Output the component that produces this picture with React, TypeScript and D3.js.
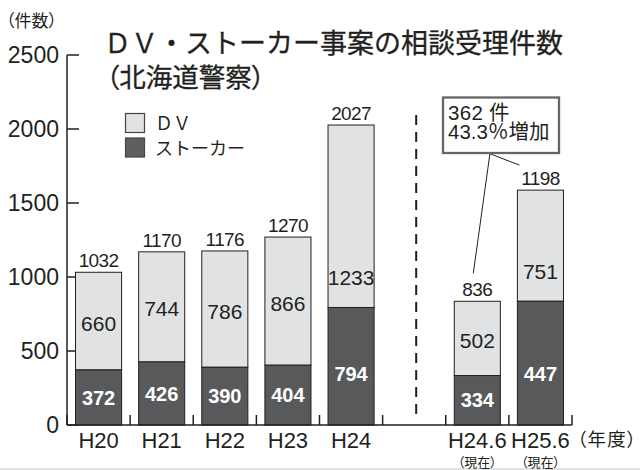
import React from "react";
import * as d3 from "d3";

// ---- data ----
const categories = ["H20", "H21", "H22", "H23", "H24", "H24.6", "H25.6"];
const subLabels = ["", "", "", "", "", "（現在）", "（現在）"];
const stalker = [372, 426, 390, 404, 794, 334, 447];
const dv = [660, 744, 786, 866, 1233, 502, 751];
const totals = [1032, 1170, 1176, 1270, 2027, 836, 1198];
// heights of the dark segments as drawn in the reference (H25.6 is drawn at 836)
const stalkerDrawn = [372, 426, 390, 404, 794, 334, 836];
const yTicks = [0, 500, 1000, 1500, 2000, 2500];
const bandDomain = ["H20", "H21", "H22", "H23", "H24", "gap", "H24.6", "H25.6"];
const legendItems = ["ＤＶ", "ストーカー"];
const titleLines = ["ＤＶ・ストーカー事案の相談受理件数", "（北海道警察）"];
const noteLines = ["362 件", "43.3％増加"];

const W = 640;
const H = 470;
const LIGHT = "#e1e2e4";
const DARK = "#58595b";
const INK = "#231f20";
const NUM = "'Liberation Sans', Arial, sans-serif";
const JP = "'Noto Sans CJK JP', 'Noto Sans', sans-serif";
const MIX = "'Liberation Sans', 'Noto Sans CJK JP', sans-serif";

export default function App() {
  const y = d3.scaleLinear().domain([0, 2500]).range([425, 55]);
  const x = d3
    .scaleBand<string>()
    .domain(bandDomain)
    .range([67, 572])
    .paddingInner(0.27)
    .paddingOuter(0.135);
  const bw = x.bandwidth();
  const step = x.step();
  const gapX = (x("gap") as number) + bw / 2;
  const boundaries = bandDomain.map((d) => (x(d) as number) - (step - bw) / 2);
  boundaries.push(boundaries[boundaries.length - 1] + step);

  const bars = categories.map((c, i) => {
    const x0 = x(c) as number;
    const yBase = y(0);
    const yDark = y(stalkerDrawn[i]);
    const yTop = y(stalkerDrawn[i] + dv[i]);
    const darkH = yBase - yDark;
    const darkCenter = yBase - Math.min(darkH / 2, 51);
    const lightMid = (yTop + yDark) / 2;
    const lightCenter = darkH > 100 ? Math.max(lightMid, yDark - 30) : lightMid + 2;
    return { c, i, x0, yBase, yDark, yTop, darkCenter, lightCenter };
  });

  const b246 = bars[5];
  const b256 = bars[6];

  return (
    <svg
      width={W}
      height={H}
      viewBox={`0 0 ${W} ${H}`}
      style={{ position: "absolute", left: 0, top: 0, background: "#fff" }}
    >
      <rect x={0} y={0} width={W} height={H} fill="#fff" />
      <rect x={0} y={468} width={W} height={2} fill="#e4e4e4" />

      {/* unit label */}
      <text x={6} y={27} fontFamily={JP} fontSize={17} fill={INK} style={{ fontFeatureSettings: '"palt"' }}>
        （件数）
      </text>

      {/* title */}
      <text x={104} y={53} fontFamily={JP} fontSize={27} fill={INK} stroke={INK} strokeWidth={0.3}>
        {titleLines[0]}
      </text>
      <text x={106} y={87} fontFamily={JP} fontSize={26.5} fill={INK} stroke={INK} strokeWidth={0.3} style={{ fontFeatureSettings: '"palt"' }}>
        {titleLines[1]}
      </text>

      {/* y axis */}
      <line x1={67} x2={67} y1={y(2500)} y2={y(0)} stroke={INK} strokeWidth={1.5} />
      {yTicks.map((t) => (
        <g key={t}>
          <line x1={67} x2={79} y1={y(t)} y2={y(t)} stroke={INK} strokeWidth={1.5} />
          <text x={59} y={y(t) + 8.2} textAnchor="end" fontFamily={NUM} fontSize={23} fill={INK}>
            {t}
          </text>
        </g>
      ))}

      {/* bars */}
      {bars.map((b) => (
        <g key={b.c}>
          <rect x={b.x0} y={b.yTop} width={bw} height={b.yDark - b.yTop} fill={LIGHT} stroke={INK} strokeWidth={1} />
          <rect x={b.x0} y={b.yDark} width={bw} height={b.yBase - b.yDark} fill={DARK} stroke={INK} strokeWidth={1} />
          <text
            x={b.x0 + bw / 2}
            y={b.yTop - 5}
            textAnchor="middle"
            fontFamily={NUM}
            fontSize={19}
            letterSpacing={-0.6}
            fill={INK}
          >
            {totals[b.i]}
          </text>
          <text
            x={b.x0 + bw / 2}
            y={b.lightCenter + 7.5}
            textAnchor="middle"
            fontFamily={NUM}
            fontSize={21}
            fill={INK}
          >
            {dv[b.i]}
          </text>
          <text
            x={b.x0 + bw / 2}
            y={b.darkCenter + 7.2}
            textAnchor="middle"
            fontFamily={NUM}
            fontSize={20}
            fontWeight="bold"
            fill="#fff"
          >
            {stalker[b.i]}
          </text>
        </g>
      ))}

      {/* x axis */}
      <line x1={67} x2={boundaries[boundaries.length - 1]} y1={y(0)} y2={y(0)} stroke={INK} strokeWidth={1.5} />
      {boundaries.map((bx, i) => (
        <line key={i} x1={bx} x2={bx} y1={y(0)} y2={y(0) - 10} stroke={INK} strokeWidth={1.5} />
      ))}
      {categories.map((c, i) => (
        <g key={c}>
          <text
            x={(x(c) as number) + bw / 2}
            y={448}
            textAnchor="middle"
            fontFamily={NUM}
            fontSize={22}
            fill={INK}
          >
            {c}
          </text>
          {subLabels[i] && (
            <text
              x={(x(c) as number) + bw / 2}
              y={466.5}
              textAnchor="middle"
              fontFamily={JP}
              fontSize={13}
              fill={INK}
              style={{ fontFeatureSettings: '"palt"' }}
            >
              {subLabels[i]}
            </text>
          )}
        </g>
      ))}
      <text x={577} y={446} fontFamily={JP} fontSize={18.5} letterSpacing={1.2} fill={INK} style={{ fontFeatureSettings: '"palt"' }}>
        （年度）
      </text>

      {/* separator */}
      <line x1={gapX + 2} x2={gapX + 2} y1={115} y2={417} stroke={INK} strokeWidth={2} strokeDasharray="10 7" />

      {/* legend */}
      {legendItems.map((l, i) => (
        <g key={l}>
          <rect x={125.5} y={113.5 + i * 24.5} width={19} height={19} fill={i === 0 ? LIGHT : "#5e5f61"} stroke="#444" strokeWidth={1.2} />
          <text x={155} y={130 + i * 24.5} fontFamily={JP} fontSize={18} fill={INK}>
            {l}
          </text>
        </g>
      ))}

      {/* annotation */}
      <line x1={490} y1={153} x2={b246.x0 + bw / 2 - 4} y2={b246.yTop - 28} stroke={INK} strokeWidth={1} />
      <line x1={488} y1={153} x2={b256.x0 + 2} y2={b256.yTop - 25} stroke={INK} strokeWidth={1} />
      <rect x={443} y={97.5} width={116} height={55.5} fill="#fff" stroke="#666" strokeWidth={2.3} />
      <text x={448} y={120} fontFamily={MIX} fontSize={20.5} letterSpacing={0.3} fill={INK}>
        {noteLines[0]}
      </text>
      <text x={448} y={139} fontFamily={MIX} fontSize={20.5} fill={INK}>
        {noteLines[1]}
      </text>
    </svg>
  );
}
